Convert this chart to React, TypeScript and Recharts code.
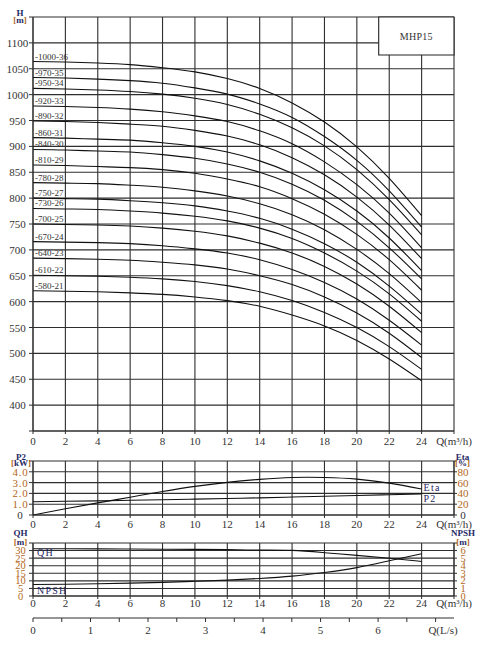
import React from 'react';
import { LineChart, ComposedChart, Line, XAxis, YAxis, CartesianGrid, ReferenceArea } from 'recharts';

const FONT = '"Liberation Serif", "Times New Roman", serif';
const INK = '#333333';
const NAVY = '#1f2a66';
const AMBER = '#b3671b';
const GRID = '#2e2e2e';
const LINE = '#111111';

// Flow rate categories, m³/h
const flowQ = [0, 2, 4, 6, 8, 10, 12, 14, 16, 18, 20, 22, 24];

// Head curves H (m) for each model variant
const head580_21 = [621, 620, 619, 617, 614, 609, 602, 591, 574, 553, 525, 489, 447];
const head610_22 = [651, 650, 649, 647, 644, 639, 631, 619, 602, 579, 550, 513, 469];
const head640_23 = [684, 683, 682, 680, 676, 671, 663, 650, 633, 609, 578, 539, 492];
const head670_24 = [716, 715, 714, 712, 708, 702, 694, 681, 662, 637, 605, 564, 516];
const head700_25 = [750, 749, 748, 746, 742, 736, 727, 713, 694, 668, 634, 591, 540];
const head730_26 = [780, 779, 778, 775, 771, 765, 756, 742, 722, 694, 659, 615, 562];
const head750_27 = [800, 799, 798, 795, 791, 785, 775, 761, 740, 712, 676, 630, 576];
const head780_28 = [830, 829, 828, 825, 821, 814, 804, 789, 768, 739, 701, 654, 598];
const head810_29 = [864, 863, 861, 859, 855, 848, 837, 822, 799, 769, 730, 681, 622];
const head840_30 = [894, 893, 891, 889, 884, 877, 866, 850, 827, 796, 755, 704, 644];
const head860_31 = [917, 916, 914, 912, 907, 900, 889, 872, 848, 816, 775, 723, 660];
const head890_32 = [949, 948, 946, 943, 939, 931, 920, 903, 878, 845, 802, 748, 683];
const head920_33 = [978, 977, 975, 972, 967, 959, 948, 930, 905, 870, 826, 771, 704];
const head950_34 = [1012, 1011, 1009, 1006, 1001, 993, 981, 962, 936, 901, 855, 797, 729];
const head970_35 = [1033, 1032, 1030, 1027, 1022, 1013, 1001, 982, 956, 919, 873, 814, 744];
const head1000_36 = [1064, 1063, 1061, 1058, 1052, 1044, 1031, 1012, 984, 947, 899, 838, 766];

const curveLabels = [
  '-580-21', '-610-22', '-640-23', '-670-24', '-700-25', '-730-26', '-750-27', '-780-28',
  '-810-29', '-840-30', '-860-31', '-890-32', '-920-33', '-950-34', '-970-35', '-1000-36',
];
const curveValues = [
  head580_21, head610_22, head640_23, head670_24, head700_25, head730_26, head750_27, head780_28,
  head810_29, head840_30, head860_31, head890_32, head920_33, head950_34, head970_35, head1000_36,
];

// Power and efficiency
const powerP2 = [1.22, 1.27, 1.31, 1.36, 1.41, 1.47, 1.53, 1.59, 1.66, 1.73, 1.8, 1.88, 1.96];
const efficiencyEta = [0, 11.5, 22.5, 33, 43.5, 53, 60.5, 66, 69.5, 69.5, 66.5, 59, 48];

// Single-stage head and NPSH
const stageHead = [31.2, 31.2, 31.1, 31.0, 30.9, 30.8, 30.6, 30.3, 30.1, 28.6, 26.8, 24.9, 22.8];
const npshRequired = [1.52, 1.56, 1.62, 1.7, 1.8, 1.94, 2.1, 2.32, 2.62, 3.1, 3.75, 4.65, 5.57];

// Axis ticks
const qTicks = [0, 2, 4, 6, 8, 10, 12, 14, 16, 18, 20, 22, 24, 26];
const hTicks = [350, 400, 450, 500, 550, 600, 650, 700, 750, 800, 850, 900, 950, 1000, 1050, 1100, 1150];
const p2Ticks = [0, 1, 2, 3, 4, 5];
const etaTicks = [0, 20, 40, 60, 80, 100];
const qhTicks = [0, 5, 10, 15, 20, 25, 30, 35];
const npshTicks = [0, 1, 2, 3, 4, 5, 6, 7];
const lsTicks = [0, 0.5, 1, 1.5, 2, 2.5, 3, 3.5, 4, 4.5, 5, 5.5, 6, 6.5, 7];

const curveKeys = curveLabels.map((_, i) => `c${i}`);
const mainData = flowQ.map((q, i) => {
  const row: Record<string, number> = { q };
  curveValues.forEach((vals, k) => {
    row[curveKeys[k]] = vals[i];
  });
  return row;
});
const powerData = flowQ.map((q, i) => ({ q, p2: powerP2[i], eta: efficiencyEta[i] }));
const stageData = flowQ.map((q, i) => ({ q, qh: stageHead[i], npsh: npshRequired[i] }));
const lsData = lsTicks.map((ls) => ({ ls }));

const UnitLabel = ({ x, y1, y2, name, unit }: { x: number; y1: number; y2: number; name: string; unit: string }) => (
  <g fontFamily={FONT} fontSize={9} fontWeight="bold">
    <text x={x} y={y1} textAnchor="middle" dominantBaseline="central" fill={NAVY}>{name}</text>
    <text x={x} y={y2} textAnchor="middle" dominantBaseline="central">
      <tspan fill={AMBER}>[</tspan>
      <tspan fill={NAVY}>{unit}</tspan>
      <tspan fill={AMBER}>]</tspan>
    </text>
  </g>
);

const HeadYTick = (props: any) => {
  const { x, y, payload } = props;
  const v = payload.value;
  if (v === 1150) return <UnitLabel x={x - 7} y1={y - 4} y2={y + 3} name="H" unit="m" />;
  if (v === 350) return <g />;
  return (
    <text x={x - 9.5} y={y} textAnchor="middle" dominantBaseline="central" fontSize={11} fill={INK} fontFamily={FONT}>
      {v}
    </text>
  );
};

const makeQTick = (dy: number) => (props: any) => {
  const { x, y, payload } = props;
  const v = payload.value;
  return (
    <text x={x} y={y + dy} textAnchor="middle" dominantBaseline="central" fontSize={11} fill={INK} fontFamily={FONT}>
      {v === 26 ? 'Q(m³/h)' : v}
    </text>
  );
};

const P2Tick = (props: any) => {
  const { x, y, payload } = props;
  const v = payload.value;
  if (v === 5) return <UnitLabel x={x - 6} y1={y - 4.5} y2={y + 2.3} name="P2" unit="kW" />;
  return (
    <text x={x - 6.5} y={y} textAnchor="middle" dominantBaseline="central" fontSize={11} fill={v === 0 ? INK : AMBER} fontFamily={FONT} letterSpacing={0.8}>
      {v === 0 ? '0' : v.toFixed(1)}
    </text>
  );
};

const EtaTick = (props: any) => {
  const { x, y, payload } = props;
  const v = payload.value;
  if (v === 100) return <UnitLabel x={x + 3.5} y1={y - 4.5} y2={y + 1.5} name="Eta" unit="%" />;
  return (
    <text x={x + 4} y={y} textAnchor="middle" dominantBaseline="central" fontSize={11} fill={v === 0 ? INK : AMBER} fontFamily={FONT}>
      {v}
    </text>
  );
};

const QhTick = (props: any) => {
  const { x, y, payload } = props;
  const v = payload.value;
  if (v === 35) return <UnitLabel x={x - 6.5} y1={y - 10} y2={y - 1} name="QH" unit="m" />;
  return (
    <text x={x - 6.5} y={y} textAnchor="middle" dominantBaseline="central" fontSize={10.5} fill={AMBER} fontFamily={FONT}>
      {v}
    </text>
  );
};

const NpshTick = (props: any) => {
  const { x, y, payload } = props;
  const v = payload.value;
  if (v === 7) return <UnitLabel x={x + 4} y1={y - 10} y2={y - 1} name="NPSH" unit="m" />;
  return (
    <text x={x + 4} y={y} textAnchor="middle" dominantBaseline="central" fontSize={10.5} fill={AMBER} fontFamily={FONT}>
      {v}
    </text>
  );
};

const LsTick = (props: any) => {
  const { x, y, payload } = props;
  const v = payload.value;
  if (v === 7) {
    return (
      <text x={x + 7.5} y={y + 6} textAnchor="middle" dominantBaseline="central" fontSize={11} fill={INK} fontFamily={FONT}>
        Q(L/s)
      </text>
    );
  }
  if (!Number.isInteger(v)) return <g />;
  return (
    <text x={x} y={y + 6} textAnchor="middle" dominantBaseline="central" fontSize={11} fill={INK} fontFamily={FONT}>
      {v}
    </text>
  );
};

const makeCurveLabelDot = (label: string) => (p: any) => {
  if (p.index !== 0) return <g key={`d-${p.index}`} />;
  return (
    <text key={`d-${p.index}`} x={p.cx + 2} y={p.cy - 2} fontSize={9} fill={INK} fontFamily={FONT}>
      {label}
    </text>
  );
};

const makeEndLabelDot = (label: string, dy: number, atStart: boolean, dx: number) => (p: any) => {
  const target = atStart ? 0 : flowQ.length - 1;
  if (p.index !== target) return <g key={`e-${p.index}`} />;
  return (
    <text key={`e-${p.index}`} x={p.cx + dx} y={p.cy + dy} dominantBaseline="central" fontSize={10} fill={NAVY} fontFamily={FONT} letterSpacing={1.2}>
      {label}
    </text>
  );
};

export default function App() {
  return (
    <div style={{ position: 'absolute', left: 0, top: 0, width: 483, height: 653, background: '#ffffff' }}>
      <div style={{ position: 'absolute', left: 0, top: 0 }}>
        <LineChart width={483} height={452} data={mainData} margin={{ top: 17, right: 29, bottom: 0, left: 0 }}>
          <CartesianGrid stroke={GRID} strokeWidth={1.1} />
          <XAxis
            dataKey="q"
            type="number"
            domain={[0, 26]}
            ticks={qTicks}
            height={21}
            tickSize={3}
            tickMargin={2}
            stroke={GRID}
            tick={makeQTick(5)}
            interval={0}
          />
          <YAxis
            domain={[350, 1150]}
            ticks={hTicks}
            width={33}
            tickSize={4}
            tickMargin={2}
            stroke={GRID}
            tick={HeadYTick}
            interval={0}
          />
          <ReferenceArea
            x1={21.35}
            x2={26}
            y1={1076.6}
            y2={1150}
            fill="#ffffff"
            fillOpacity={1}
            stroke="#222222"
            strokeWidth={1.1}
            label={{ value: 'MHP15', position: 'center', fontSize: 10, fill: INK, fontFamily: FONT, letterSpacing: 0.3 }}
          />
          {curveKeys.map((k, i) => (
            <Line
              key={k}
              dataKey={k}
              type="natural"
              stroke={LINE}
              strokeWidth={1.1}
              dot={makeCurveLabelDot(curveLabels[i])}
              activeDot={false}
              isAnimationActive={false}
            />
          ))}
        </LineChart>
      </div>

      <div style={{ position: 'absolute', left: 0, top: 445 }}>
        <ComposedChart width={483} height={90} data={powerData} margin={{ top: 16, right: 0, bottom: 0, left: 0 }}>
          <CartesianGrid yAxisId="p2" stroke={GRID} strokeWidth={1.1} />
          <XAxis
            dataKey="q"
            type="number"
            domain={[0, 26]}
            ticks={qTicks}
            height={20}
            tickSize={3}
            tickMargin={2}
            stroke={GRID}
            tick={makeQTick(4)}
            interval={0}
          />
          <YAxis yAxisId="p2" domain={[0, 5]} ticks={p2Ticks} width={33} tickSize={4} tickMargin={2} stroke={GRID} tick={P2Tick} interval={0} />
          <YAxis yAxisId="eta" orientation="right" domain={[0, 100]} ticks={etaTicks} width={29} tickSize={3} tickMargin={2} stroke={GRID} tick={EtaTick} interval={0} />
          <Line
            yAxisId="eta"
            dataKey="eta"
            type="natural"
            stroke={LINE}
            strokeWidth={1.1}
            dot={makeEndLabelDot('Eta', -1.5, false, 2)}
            activeDot={false}
            isAnimationActive={false}
          />
          <Line
            yAxisId="p2"
            dataKey="p2"
            type="natural"
            stroke={LINE}
            strokeWidth={1.1}
            dot={makeEndLabelDot('P2', 4.5, false, 2)}
            activeDot={false}
            isAnimationActive={false}
          />
        </ComposedChart>
      </div>

      <div style={{ position: 'absolute', left: 0, top: 525 }}>
        <ComposedChart width={483} height={93} data={stageData} margin={{ top: 18, right: 0, bottom: 0, left: 0 }}>
          <CartesianGrid yAxisId="qh" stroke={GRID} strokeWidth={1.1} />
          <XAxis
            dataKey="q"
            type="number"
            domain={[0, 26]}
            ticks={qTicks}
            height={22}
            tickSize={3}
            tickMargin={2}
            stroke={GRID}
            tick={makeQTick(2)}
            interval={0}
          />
          <YAxis yAxisId="qh" domain={[0, 35]} ticks={qhTicks} width={33} tickSize={4} tickMargin={2} stroke={GRID} tick={QhTick} interval={0} />
          <YAxis yAxisId="npsh" orientation="right" domain={[0, 7]} ticks={npshTicks} width={29} tickSize={3} tickMargin={2} stroke={GRID} tick={NpshTick} interval={0} />
          <Line
            yAxisId="qh"
            dataKey="qh"
            type="natural"
            stroke={LINE}
            strokeWidth={1.1}
            dot={makeEndLabelDot('QH', 4, true, 4)}
            activeDot={false}
            isAnimationActive={false}
          />
          <Line
            yAxisId="npsh"
            dataKey="npsh"
            type="natural"
            stroke={LINE}
            strokeWidth={1.1}
            dot={makeEndLabelDot('NPSH', 6, true, 4)}
            activeDot={false}
            isAnimationActive={false}
          />
        </ComposedChart>
      </div>

      <div style={{ position: 'absolute', left: 0, top: 605 }}>
        <LineChart width={483} height={40} data={lsData} margin={{ top: 0, right: 29, bottom: 0, left: 33 }}>
          <XAxis
            dataKey="ls"
            type="number"
            domain={[0, 7.32]}
            ticks={lsTicks}
            height={27}
            tickSize={4}
            tickMargin={2}
            stroke={GRID}
            tick={LsTick}
            interval={0}
          />
          <YAxis hide domain={[0, 1]} />
        </LineChart>
      </div>
    </div>
  );
}
